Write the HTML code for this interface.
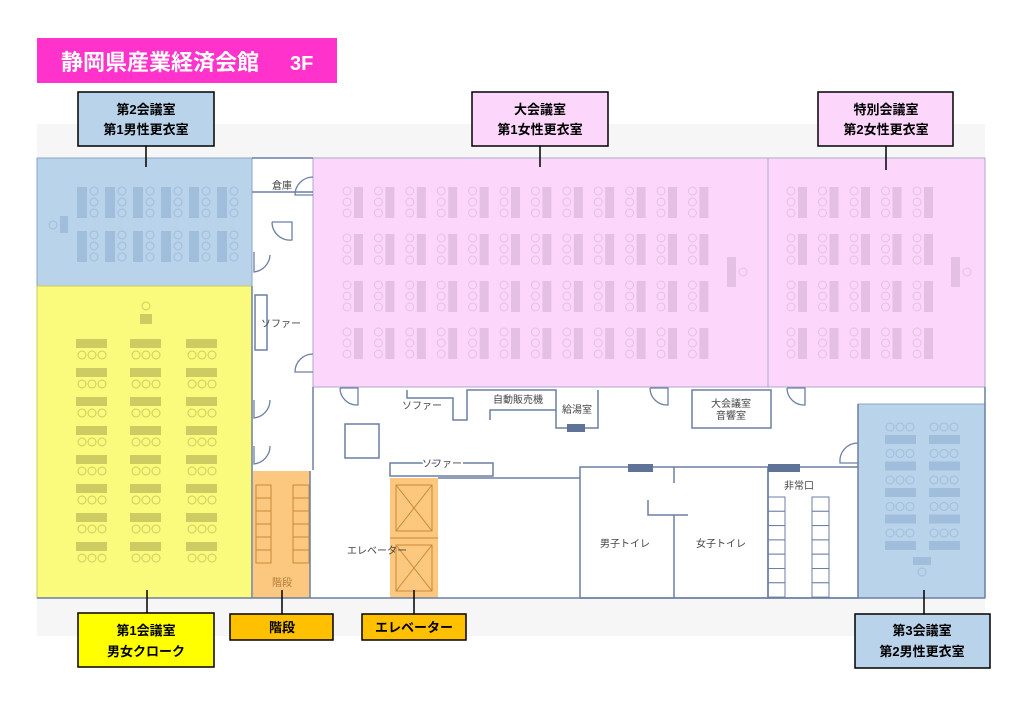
<!DOCTYPE html>
<html><head><meta charset="utf-8"><style>
html,body{margin:0;padding:0;background:#fff;}
svg{display:block;font-family:"Liberation Sans","Noto Sans CJK JP",sans-serif;}
.lb{font-weight:bold;font-size:13px;fill:#000;text-anchor:middle;}
.sm{font-size:10px;fill:#444;text-anchor:middle;}
.w{stroke:#6c7fa3;stroke-width:1.5;fill:none;}
</style></head><body>
<svg id="s" width="1024" height="709" viewBox="0 0 1024 709" xmlns="http://www.w3.org/2000/svg">
<rect x="37" y="124" width="948" height="512" fill="#f6f6f6"/>
<rect x="37" y="158" width="948" height="440" fill="#fff"/>
<rect x="37" y="158" width="215" height="128" fill="#b8d3ea" stroke="#8aa6c8"/>
<rect x="37" y="286" width="215" height="312" fill="#fafa7c" stroke="#c8c860"/>
<rect x="313" y="158" width="455" height="229" fill="#fdd6fc" stroke="#a9a9cc"/>
<rect x="768" y="158" width="217" height="229" fill="#fdd6fc" stroke="#a9a9cc"/>
<rect x="858" y="404" width="127" height="194" fill="#b8d3ea" stroke="#8aa6c8"/>
<rect x="253" y="471" width="57" height="127" fill="#fcc77e"/>
<rect x="390" y="478" width="48" height="120" fill="#fcc77e"/>
<g id="gen"></g>
<g class="w">
<line x1="37" y1="598" x2="985" y2="598"/>
<line x1="252" y1="158" x2="313" y2="158"/>
<line x1="252" y1="192" x2="313" y2="192"/>
<line x1="252" y1="286" x2="252" y2="598"/>
<line x1="985" y1="387" x2="985" y2="598"/>
<line x1="313" y1="387" x2="313" y2="470"/>
<rect x="255" y="295" width="12" height="55"/>
<rect x="345" y="424" width="34" height="34"/>
<polyline points="407,390 407,398 453,398 453,420 467,420 467,390 556,390 556,428 598,428 598,390"/>
<polyline points="490,420 490,410 556,410"/>
<rect x="692" y="390" width="79" height="38"/>
<rect x="390" y="463" width="103" height="13"/>
<polyline points="438,478 580,478"/>
<rect x="580" y="467" width="188" height="131"/>
<line x1="674" y1="467" x2="674" y2="483"/>
<line x1="674" y1="515" x2="674" y2="598"/>
<polyline points="648,500 648,515 688,515"/>
<rect x="768" y="467" width="90" height="131"/>
<line x1="858" y1="404" x2="858" y2="467"/>
<line x1="310" y1="471" x2="310" y2="598"/>
</g>
<rect x="567" y="424" width="18" height="8" fill="#5f7399"/>
<rect x="628" y="464" width="25" height="8" fill="#5f7399"/>
<rect x="768" y="464" width="32" height="8" fill="#5f7399"/>
<g stroke="#c98a3a" fill="none" stroke-width="1">
<rect x="396" y="485" width="36" height="46"/><line x1="396" y1="485" x2="432" y2="531"/><line x1="432" y1="485" x2="396" y2="531"/>
<rect x="396" y="545" width="36" height="46"/><line x1="396" y1="545" x2="432" y2="591"/><line x1="432" y1="545" x2="396" y2="591"/>
<line x1="390" y1="538" x2="438" y2="538"/>
</g>
<g stroke="#6c7fa3" stroke-width="1.3" fill="none">
<path d="M313,195 L295,195 A18,18 0 0 1 313,177"/>
<path d="M272,222 L292,222 L292,240 A18,18 0 0 1 272,222"/>
<path d="M254,252 L254,272 A18,18 0 0 0 270,255"/>
<path d="M313,372 L295,372 A18,18 0 0 1 313,354"/>
<path d="M254,400 L254,418 A18,18 0 0 0 270,400"/>
<path d="M254,446 L254,464 A18,18 0 0 0 270,446"/>
<path d="M340,388 L358,388 L358,405 A17,17 0 0 1 340,388"/>
<path d="M650,388 L668,388 L668,405 A17,17 0 0 1 650,388"/>
<path d="M787,388 L805,388 L805,405 A17,17 0 0 1 787,388"/>
<path d="M858,463 L840,463 A18,18 0 0 1 858,443"/>
</g>
<text x="282" y="189" class="sm">倉庫</text>
<text x="281" y="327" class="sm">ソファー</text>
<text x="422" y="409" class="sm">ソファー</text>
<text x="518" y="403" class="sm">自動販売機</text>
<text x="577" y="413" class="sm">給湯室</text>
<text x="731" y="407" class="sm">大会議室</text>
<text x="731" y="419" class="sm">音響室</text>
<text x="442" y="467" class="sm" style="paint-order:stroke" stroke="#fff" stroke-width="4">ソファー</text>
<text x="377" y="554" class="sm">エレベーター</text>
<text x="282" y="586" class="sm" style="fill:#b07b3a">階段</text>
<text x="625" y="547" class="sm">男子トイレ</text>
<text x="721" y="547" class="sm">女子トイレ</text>
<text x="799" y="489" class="sm">非常口</text>
<rect x="37" y="38" width="300" height="45" fill="#ff33cc"/>
<text x="61" y="70" font-size="22" font-weight="bold" fill="#fff">静岡県産業経済会館</text>
<text x="290" y="70" font-size="20" font-weight="bold" fill="#fff">3F</text>
<g stroke="#000" stroke-width="1.5">
<line x1="146" y1="146" x2="146" y2="167"/><line x1="540" y1="146" x2="540" y2="167"/><line x1="886" y1="146" x2="886" y2="170"/>
<line x1="147" y1="590" x2="147" y2="613"/><line x1="282" y1="590" x2="282" y2="614"/><line x1="414" y1="590" x2="414" y2="614"/><line x1="924" y1="590" x2="924" y2="614"/>
<rect x="78" y="92" width="136" height="54" fill="#b8d3ea"/>
<rect x="472" y="92" width="136" height="54" fill="#fdd6fc"/>
<rect x="818" y="92" width="135" height="54" fill="#fdd6fc"/>
<rect x="78" y="613" width="136" height="54" fill="#ffff00"/>
<rect x="230" y="614" width="103" height="26" fill="#ffc000"/>
<rect x="362" y="614" width="104" height="26" fill="#ffc000"/>
<rect x="855" y="614" width="135" height="54" fill="#b8d3ea"/>
</g>
<text x="146" y="114" class="lb">第2会議室</text><text x="146" y="134" class="lb">第1男性更衣室</text>
<text x="540" y="114" class="lb">大会議室</text><text x="540" y="134" class="lb">第1女性更衣室</text>
<text x="886" y="114" class="lb">特別会議室</text><text x="886" y="134" class="lb">第2女性更衣室</text>
<text x="146" y="635" class="lb">第1会議室</text><text x="146" y="656" class="lb">男女クローク</text>
<text x="282" y="632" class="lb">階段</text>
<text x="414" y="632" class="lb">エレベーター</text>
<text x="922" y="635" class="lb">第3会議室</text><text x="922" y="656" class="lb">第2男性更衣室</text>
</svg>
<script>
var g=document.getElementById('gen'),h='';
function R(x,y,w,hh,c){h+='<rect x="'+x+'" y="'+y+'" width="'+w+'" height="'+hh+'" fill="'+c+'"/>';}
function C(x,y,c){h+='<circle cx="'+x+'" cy="'+y+'" r="4" fill="none" stroke="'+c+'" stroke-width="1"/>';}
var bt='#a0bddb',pt='#e4c0e4',yt='#cccc62';
for(var i=0;i<6;i++){var x=77+28*i;[187,231].forEach(function(y){R(x,y,10,31,bt);for(var k=0;k<3;k++)C(x+17,y+4+11*k,bt);});}
R(60,216,8,17,bt);C(53,225,bt);
C(146,306,yt);R(140,314,12,10,yt);
[76,130,186].forEach(function(x){for(var r=0;r<8;r++){var y=339+29*r;R(x,y,31,9,yt);for(var k=0;k<3;k++)C(x+6+10*k,y+16,yt);}});
for(var i=0;i<12;i++){var x=347+31.4*i;[187,234,281,328].forEach(function(y){R(x+7,y,9,31,pt);for(var k=0;k<3;k++)C(x,y+4+11*k,pt);});}
R(727,257,9,30,pt);C(743,272,pt);
for(var i=0;i<5;i++){var x=791+31.5*i;[187,234,281,328].forEach(function(y){R(x+7,y,9,31,pt);for(var k=0;k<3;k++)C(x,y+4+11*k,pt);});}
R(951,257,9,30,pt);C(967,272,pt);
[885,929].forEach(function(x){for(var r=0;r<5;r++){var y=427+26.5*r;for(var k=0;k<3;k++)C(x+5+10*k,y,bt);R(x,y+8,31,9,bt);}});
R(913,557,18,8,bt);C(922,572,bt);
h+='<g stroke="#c98a3a" fill="none">';
[[256,271],[293,309]].forEach(function(a){for(var r=0;r<6;r++)h+='<rect x="'+a[0]+'" y="'+(485+13*r)+'" width="'+(a[1]-a[0])+'" height="13"/>';});
h+='</g><g stroke="#6c7fa3" fill="#fff">';
[[768,785],[812,829]].forEach(function(a){for(var r=0;r<7;r++)h+='<rect x="'+a[0]+'" y="'+(497+14.3*r)+'" width="'+(a[1]-a[0])+'" height="14.3"/>';});
h+='</g>';
g.innerHTML=h;
</script>
</body></html>
